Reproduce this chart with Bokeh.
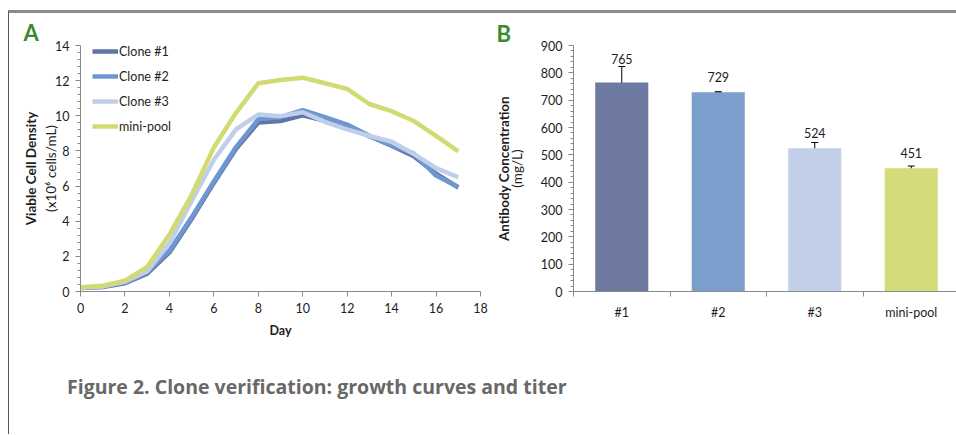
import numpy as np
from bokeh.plotting import figure
from bokeh.models import (Range1d, ColumnDataSource, Legend, LegendItem, Whisker, Title,
                          TeeHead, FixedTicker, SingleIntervalTicker, LinearAxis, Div)
from bokeh.layouts import row, column
from bokeh.embed import file_html
from bokeh.resources import INLINE
from bokeh.core.properties import value

# ---------------- data ----------------
days = list(range(18))
clone1 = [0.20, 0.25, 0.47, 1.02, 2.22, 4.12, 6.18, 8.12, 9.62, 9.70, 10.02, 9.72, 9.38, 8.84, 8.30, 7.70, 6.70, 5.92]
clone2 = [0.21, 0.27, 0.51, 1.10, 2.32, 4.22, 6.26, 8.22, 9.80, 9.92, 10.32, 9.92, 9.50, 8.86, 8.33, 7.85, 6.60, 5.95]
clone3 = [0.22, 0.29, 0.55, 1.15, 2.75, 5.15, 7.50, 9.23, 10.07, 9.98, 10.20, 9.66, 9.23, 8.86, 8.52, 7.83, 7.02, 6.50]
minipool = [0.24, 0.33, 0.62, 1.40, 3.24, 5.49, 8.20, 10.17, 11.85, 12.04, 12.17, 11.85, 11.53, 10.67, 10.26, 9.70, 8.86, 7.98]
series_names = ["Clone #1", "Clone #2", "Clone #3", "mini-pool"]

categories = ["#1", "#2", "#3", "mini-pool"]
titer = [765, 729, 524, 451]
titer_err = [58, 2, 21, 8]

line_colors = ["#6273A6", "#6E97CF", "#BFCEEA", "#D2DB72"]
bar_colors = ["#6F7AA2", "#7B9ECC", "#C3CFE7", "#D4DB7A"]

FONT = "Lato"
AXIS_GRAY = "#8a8a8a"
TXT = "#1e1e1e"
GREEN = "#3B8A2F"


def style_axis(ax):
    ax.axis_line_color = AXIS_GRAY
    ax.major_tick_line_color = AXIS_GRAY
    ax.minor_tick_line_color = AXIS_GRAY
    ax.major_tick_in = 0
    ax.major_tick_out = 5
    ax.minor_tick_in = 0
    ax.minor_tick_out = 3
    ax.major_label_text_font = FONT
    ax.major_label_text_font_size = "12.5px"
    ax.major_label_text_color = TXT
    ax.major_label_standoff = 6
    ax.axis_label_text_font = FONT
    ax.axis_label_text_font_size = "13.5px"
    ax.axis_label_text_color = TXT
    ax.axis_label_text_font_style = "normal"


def title_axis(text, standoff):
    ax = LinearAxis(ticker=FixedTicker(ticks=[]), axis_line_color=None,
                    major_tick_line_color=None, minor_tick_line_color=None,
                    axis_label=text, axis_label_text_font=FONT, axis_label_text_font_size="13.5px",
                    axis_label_text_font_style="bold", axis_label_text_color=TXT,
                    axis_label_standoff=standoff)
    return ax


# ---------------- panel A ----------------
pA = figure(width=480, height=340, x_range=Range1d(0, 18), y_range=Range1d(0, 14),
            output_backend="svg", toolbar_location=None,
            min_border_left=71, min_border_right=9, min_border_top=29, min_border_bottom=62)
pA.outline_line_color = None
pA.xgrid.visible = False
pA.ygrid.visible = False

renderers = []
for ys, col in zip([clone1, clone2, clone3, minipool], line_colors):
    r = pA.line(days, ys, line_color=col, line_width=4.5, line_join="round")
    renderers.append(r)

for ax in pA.xaxis + pA.yaxis:
    style_axis(ax)
pA.xaxis.ticker = SingleIntervalTicker(interval=2, num_minor_ticks=0)
pA.xaxis.minor_tick_line_color = None
pA.yaxis.ticker = SingleIntervalTicker(interval=2, num_minor_ticks=5)
pA.xaxis.axis_label = "Day"
pA.xaxis.axis_label_text_font_style = "bold"
pA.xaxis.axis_label_text_font_size = "12.5px"
pA.xaxis.axis_label_standoff = 7
pA.yaxis.axis_label = "(x10\u2076 cells/mL)"
pA.yaxis.axis_label_standoff = -7
pA.add_layout(title_axis("Viable Cell Density", 2), "left")

legend = Legend(items=[LegendItem(label=n, renderers=[r]) for n, r in zip(series_names, renderers)],
                location=(12, 155), border_line_color=None, background_fill_alpha=0,
                padding=0, margin=0, spacing=5, glyph_width=26, glyph_height=20,
                label_height=20, label_standoff=1, label_text_font=FONT,
                label_text_font_size="12.5px", label_text_color=TXT)
pA.add_layout(legend)

pA.add_layout(Title(text="A", align="left", offset=-57, standoff=-1, text_font=FONT,
                    text_font_style="bold", text_font_size="22px", text_color=GREEN), "above")

# ---------------- panel B ----------------
xs = [i + 0.5 for i in range(len(categories))]
px_per_unit = 247 / 900
upper = [v + e for v, e in zip(titer, titer_err)]
label_y = [max(v + 15 / px_per_unit, u + 8 / px_per_unit) for v, u in zip(titer, upper)]
src = ColumnDataSource(dict(
    x=xs, top=titer, color=bar_colors, upper=upper,
    lower=[v - e for v, e in zip(titer, titer_err)],
    label=[str(v) for v in titer], label_y=label_y,
))

pB = figure(width=467, height=340, x_range=Range1d(0, 383 / 96.5), y_range=Range1d(0, 900),
            output_backend="svg", toolbar_location=None,
            min_border_left=84, min_border_right=0, min_border_top=32, min_border_bottom=61)
pB.outline_line_color = None
pB.xgrid.visible = False
pB.ygrid.visible = False

pB.vbar(x="x", top="top", width=0.55, fill_color="color", line_color=None, source=src)
pB.add_layout(Whisker(base="x", upper="upper", lower="lower", source=src,
                      line_color="black", line_width=1,
                      upper_head=TeeHead(size=7, line_color="black", line_width=1),
                      lower_head=TeeHead(size=7, line_color="black", line_width=1)))
pB.text(x="x", y="label_y", text="label", source=src, text_align="center", text_baseline="middle",
        text_font=value(FONT), text_font_size="12.5px", text_color=TXT)

for ax in pB.xaxis + pB.yaxis:
    style_axis(ax)
pB.yaxis.ticker = SingleIntervalTicker(interval=100, num_minor_ticks=5)
pB.xaxis.ticker = FixedTicker(ticks=xs, minor_ticks=list(range(len(categories) + 1)))
pB.xaxis.major_label_overrides = {x: c for x, c in zip(xs, categories)}
pB.xaxis.major_tick_out = 0
pB.xaxis.minor_tick_out = 5
pB.xaxis.major_label_standoff = 8
pB.yaxis.axis_label = "(mg/L)"
pB.yaxis.axis_label_standoff = 13
pB.add_layout(title_axis("Antibody Concentration", -6), "left")

pB.add_layout(Title(text="B", align="left", offset=-77, standoff=-3, text_font=FONT,
                    text_font_style="bold", text_font_size="22px", text_color=GREEN), "above")

caption = Div(text="Figure 2. Clone verification: growth curves and titer",
              width=600, height=61, margin=(20, 0, 0, 58),
              styles={"font-family": "Open Sans", "font-weight": "bold", "font-size": "19.5px",
                      "color": "#686868", "white-space": "nowrap"})

layout = column(row(pA, pB), caption,
                styles={"border-top": "3px solid #8c8c8c", "border-left": "1px solid #555555",
                        "margin-top": "10px", "margin-left": "8px"})

open("out.html", "w").write(file_html(layout, INLINE))
